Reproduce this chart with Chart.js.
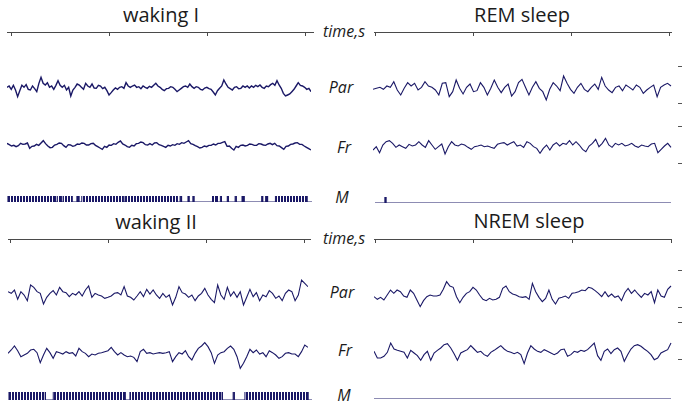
<!DOCTYPE html>
<html>
<head>
<meta charset="utf-8">
<script src="https://cdn.jsdelivr.net/npm/chart.js@4.4.1/dist/chart.umd.min.js"></script>
<style>
  html, body { margin: 0; padding: 0; background: #fff; }
  #stage { position: relative; width: 682px; height: 403px; overflow: hidden; }
  #stage canvas { position: absolute; }
  .title { position: absolute; transform: translateX(-50%); font: 20px "Open Sans", sans-serif; line-height: 1; color: #1b1b1b; white-space: nowrap; }
  .lab { position: absolute; transform: translateX(-50%); font: italic 16px "Open Sans", sans-serif; line-height: 1; color: #1b1b1b; white-space: nowrap; }
</style>
</head>
<body>
<div id="stage">
  <div class="title" style="left:161px;top:5px">waking I</div>
  <div class="title" style="left:522px;top:5px">REM sleep</div>
  <div class="title" style="left:156px;top:212px">waking II</div>
  <div class="title" style="left:529px;top:211px">NREM sleep</div>
  <div class="lab" style="left:344px;top:23px">time,s</div>
  <div class="lab" style="left:341px;top:79px">Par</div>
  <div class="lab" style="left:344px;top:139px">Fr</div>
  <div class="lab" style="left:342px;top:189px">M</div>
  <div class="lab" style="left:344px;top:230px">time,s</div>
  <div class="lab" style="left:342px;top:284px">Par</div>
  <div class="lab" style="left:345px;top:342px">Fr</div>
  <div class="lab" style="left:344px;top:387px">M</div>
</div>
<script>
// time axis ticks, s
const timeTicks = [0, 10, 20, 30];
// amplitude marks on the right-hand traces (a.u.)
const rangeTicks = [-54, 54];

// waking I
const wakeIPar = [2, 6, -4, 8, -6, -26, -8, 8, 2, 10, -4, -6, 6, -2, -11, 14, 32, 14, 9, 16, 2, 6, -4, 8, 22, 8, 2, 8, -6, 2,
  -24, -6, 2, 12, 9, 2, -4, 14, 6, 2, 12, 0, -1, 8, 6, -2, 2, -8, -21, -14, -6, 0, -4, 2, 4, -1, 16, 6, 2, 6,
  9, 2, 4, -2, 6, 2, -1, 5, 2, 8, 14, 6, 2, -4, -8, -2, -1, 4, 2, -4, -11, -6, -1, 4, 6, 2, 12, 4, -1, 4,
  2, -4, -6, 0, 2, -2, -4, -12, -21, -8, -1, 6, 24, 12, 2, -2, -6, 2, 4, -2, -1, 6, 2, 6, 0, 6, 2, 8, 4, 9,
  2, -1, 6, 4, 10, 14, 8, 22, 9, -1, -16, -24, -21, -18, -11, -4, 6, 16, 8, 6, 2, -4, -1, -11];
const wakeIFr = [5, 1, -3, -1, -5, -2, 5, 2, 3, 6, -10, -4, -3, 2, -1, 6, 13, 4, -3, -8, -7, 0, 2, 6, 5, -2, -7, 1, 0, -4,
  -2, 3, 2, 6, 5, 0, 0, 4, 5, -1, -5, -9, -13, -4, -7, 0, -1, 4, 2, 8, 12, 3, 0, -5, -7, -1, -3, 4, 5, 9,
  7, 1, 0, 4, 0, 6, 7, 1, -1, -4, -7, -1, -3, 1, -1, 4, 2, 7, 5, 9, 13, 4, 2, -2, -5, -9, -7, -3, -5, -1,
  -1, 3, 0, 5, 5, 8, 10, -4, -3, -10, -15, -4, -7, -1, 0, -3, -1, 3, 2, -1, -1, 4, 3, 0, -1, 3, 5, 1, 5, -2,
  -3, -8, -13, -4, -3, 2, 3, 6, 7, 2, 2, -3, -7, -11, -15];
// movement epochs [start, end], s
const wakeIMove = [[-0.4, 4.5], [4.7, 5.1], [5.3, 6.2], [6.7, 6.9], [7.2, 11.4], [11.6, 16.9], [17.2, 17.35], [18.0, 18.1],
  [18.5, 18.6], [20.5, 21.0], [21.3, 21.4], [22.0, 22.1], [22.8, 22.9], [23.5, 23.7], [25.5, 25.6], [25.9, 26.1], [26.9, 30.1]];

// REM sleep
const remPar = [-13, -10, -7, -13, -3, -7, 10, -15, -30, -10, 7, -3, 5, -15, -7, 10, -3, -7, -15, -30, 5, 7, -35, -20, 15, -10, -27, -7, 3, -20,
  -17, 7, -7, -30, -10, 15, -7, -23, -7, 3, -33, -20, 7, 17, -7, -30, -7, 10, -10, -20, -45, -13, 7, -3, -17, 27, 5, -13, -25, -7,
  5, -13, -20, -7, 3, -13, 23, -3, -15, -23, -7, -3, -17, 0, -7, -15, 0, -7, -25, -15, -7, 0, -35, -7, 0, 5, -3];
const remFr = [-15, -5, -23, 0, 10, 13, 5, -7, 0, -5, -10, 2, -3, 0, 10, 0, -7, 13, 0, -13, -5, 3, -27, -5, 10, 0, -3, 3, 0, -7,
  -13, -5, -3, 0, -5, -3, -7, -10, 2, 5, 7, 0, 5, 10, -3, 0, -7, 10, 5, -5, -10, -25, -10, 0, -15, 0, 7, -3, 5, 2,
  13, 0, 10, 0, -13, -20, -3, 5, 17, -5, 5, 20, 0, -7, 5, 0, 5, -3, 0, 5, -3, -7, 0, -3, -5, 3, 5, -23, -13, -3, 5, -7];
const remMove = [[1.0, 1.1]];

// waking II
const wakeIIPar = [4, -1, 9, -19, 4, -6, -23, 24, 17, 4, -1, -33, -13, -1, 7, -6, 17, 4, 1, -11, -1, -6, 4, -9, 9, 21, -13, -1, -6, -9,
  -16, -13, -9, -1, 1, -6, 19, -9, -13, -21, -9, 4, -11, 11, -3, 9, -6, -16, -1, -13, -6, -36, -13, 19, 1, -3, -13, -6, -23, -9,
  -1, 14, -6, -19, -29, 24, -6, -19, 17, -9, 4, -13, 4, -36, -13, 11, -11, 1, -23, -6, -11, 7, -1, -16, -9, -23, -1, 9, 4, -23,
  -6, 39, 29, 19];
const wakeIIFr = [-1, 9, 21, 7, -11, -6, -1, 9, 11, 1, -29, -6, 14, 1, -16, 4, 1, -3, 4, -1, 1, -9, 14, 4, -1, -11, -3, -6, -1, 1,
  4, 7, 17, 4, -6, 1, -6, -11, -9, -13, -26, 4, 11, -1, 1, -3, -1, 1, -1, 1, 4, -26, -11, 1, -3, 7, -11, -21, -1, 14,
  21, 31, 19, 1, -31, -6, 1, 4, 14, 21, 11, -11, -46, -31, -11, 11, 1, 9, -3, 1, -11, 7, 1, -6, -16, -11, -1, 1, -3, -3,
  -11, 4, 24, 17];
const wakeIIMove = [[-0.2, 3.6], [4.4, 11.7], [12.2, 21.6], [22.7, 22.8], [23.9, 30.3]];

// NREM sleep
const nremPar = [-23, -31, -25, -33, -18, -3, -13, -3, -8, -21, -25, -3, -13, -33, -53, -35, -23, -18, -21, -21, -18, -1, 22, 9, 5, -23, -41, -25, -13, -8,
  5, -3, -18, -31, -35, -28, -33, -31, -25, 2, 9, -8, -15, -18, -23, -25, -23, -31, 17, -8, -25, -38, -28, -3, -31, -45, -28, -25, -21, -28,
  -13, -11, -8, -3, -5, 5, 2, -5, -13, -23, -8, -23, -15, -25, -21, -35, -11, 2, -13, -3, -15, -25, -13, -18, -8, -41, -3, -21, -25, -1, 9];
const nremFr = [-31, -51, -51, -46, -34, -6, -24, -28, -31, -34, -51, -28, -36, -44, -58, -41, -31, -58, -36, -28, -21, -11, -8, -21, -38, -58, -36, -31, -26, -14,
  -24, -34, -31, -41, -46, -34, -28, -21, -14, -24, -31, -34, -38, -34, -41, -68, -36, -14, -24, -31, -34, -26, -31, -36, -41, -36, -26, -24, -46, -41,
  -31, -34, -28, -31, -26, -16, -6, -44, -58, -31, -24, -38, -26, -21, -31, -61, -41, -24, -14, -11, -16, -24, -31, -41, -56, -51, -36, -31, -26, -6];
const nremMove = [];

const NAVY = "#1a1866";
const AXIS = "#4a4a4a";
const stage = document.getElementById("stage");

// striped fill for the movement bars
const stripes = (() => {
  const c = document.createElement("canvas");
  c.width = 3; c.height = 1;
  const g = c.getContext("2d");
  g.fillStyle = "#fff"; g.fillRect(0, 0, 3, 1);
  g.fillStyle = NAVY; g.fillRect(0, 0, 2, 1);
  return g.createPattern(c, "repeat");
})();

const makeCanvas = (left, top, width, height) => {
  const c = document.createElement("canvas");
  c.width = width; c.height = height;
  c.style.left = left + "px"; c.style.top = top + "px";
  c.style.width = width + "px"; c.style.height = height + "px";
  stage.appendChild(c);
  return c;
};

const baseOpts = (padding) => ({
  responsive: false, animation: false, devicePixelRatio: 1, events: [],
  layout: { padding },
  plugins: { legend: { display: false }, tooltip: { enabled: false } }
});

// time axis with hanging ticks
const timeAxis = (x0, x1, y, t0px, pps) => {
  const canvas = makeCanvas(x0 - 2, y - 3, x1 - x0 + 4, 10);
  new Chart(canvas, {
    type: "line",
    data: { datasets: [] },
    options: {
      ...baseOpts({ left: 2, right: 2, top: 0, bottom: 0 }),
      scales: {
        x: {
          type: "linear", position: "bottom",
          min: (x0 - t0px) / pps, max: (x1 - t0px) / pps,
          border: { display: true, color: AXIS, width: 1 },
          grid: { drawOnChartArea: false, drawTicks: true, tickLength: 4, color: AXIS },
          ticks: { display: false },
          afterBuildTicks: s => { s.ticks = timeTicks.map(v => ({ value: v })); },
          afterFit: s => { s.height = 7; }
        },
        y: { display: false, min: 0, max: 1 }
      }
    }
  });
};

// one EEG trace
const trace = (values, x0, x1, cy, withTicks, lw) => {
  const h = 60;
  const right = withTicks ? 682 : x1 + 2;
  const canvas = makeCanvas(x0 - 2, Math.round(cy - h / 2), right - x0 + 2, h);
  const n = values.length;
  const areaRight = withTicks ? 678 : x1;
  new Chart(canvas, {
    type: "line",
    data: {
      datasets: [{
        data: values.map((v, i) => ({ x: i, y: v })),
        borderColor: NAVY, borderWidth: lw, pointRadius: 0, tension: 0, fill: false
      }]
    },
    options: {
      ...baseOpts({ left: 2, right: withTicks ? 0 : 2, top: 0, bottom: 0 }),
      scales: {
        x: { type: "linear", display: false, min: 0, max: (n - 1) * (areaRight - x0) / (x1 - x0) },
        y: {
          min: -90, max: 90, display: withTicks, position: "right",
          border: { display: false },
          grid: { drawOnChartArea: false, drawTicks: true, tickLength: 4, color: "#555" },
          ticks: { display: false },
          afterBuildTicks: s => { s.ticks = rangeTicks.map(v => ({ value: v })); },
          afterFit: s => { s.width = 4; }
        }
      }
    }
  });
};

// movement channel: baseline plus striped bars, no line along the bar tops
const movement = (epochs, x0, x1, top, base, t0px, pps) => {
  const canvas = makeCanvas(x0 - 2, top - 2, x1 - x0 + 4, base - top + 4);
  const tMin = (x0 - t0px) / pps, tMax = (x1 - t0px) / pps;
  const pts = [{ x: tMin, y: 0 }];
  epochs.forEach(([a, b]) => {
    pts.push({ x: a, y: 0 }, { x: a, y: 1 }, { x: b, y: 1 }, { x: b, y: 0 });
  });
  pts.push({ x: tMax, y: 0 });
  new Chart(canvas, {
    type: "line",
    data: {
      datasets: [{
        data: pts, borderColor: NAVY, borderWidth: 1, pointRadius: 0, tension: 0,
        fill: "origin", backgroundColor: stripes,
        segment: {
          borderColor: ctx => (ctx.p0.parsed.y === 1 && ctx.p1.parsed.y === 1 ? "rgba(0,0,0,0)" : undefined)
        }
      }]
    },
    options: {
      ...baseOpts(2),
      scales: {
        x: { type: "linear", display: false, min: tMin, max: tMax },
        y: { display: false, min: 0, max: 1 }
      }
    }
  });
};

// waking I
timeAxis(7, 313, 32, 11, 9.83);
trace(wakeIPar, 7, 315, 88, false, 1.4);
trace(wakeIFr, 7, 315, 145, false, 1.4);
movement(wakeIMove, 7, 312, 196, 202, 11, 9.83);

// REM sleep
timeAxis(374, 671, 32, 375, 9.83);
trace(remPar, 373, 671, 85, true, 1.1);
trace(remFr, 373, 671, 145, true, 1.1);
movement(remMove, 375, 671, 197, 203, 375, 9.83);

// waking II
timeAxis(8, 310, 239, 10, 9.83);
trace(wakeIIPar, 8, 312, 293, false, 1.1);
trace(wakeIIFr, 8, 312, 353, false, 1.1);
movement(wakeIIMove, 8, 312, 392, 400, 10, 9.83);

// NREM sleep
timeAxis(374, 671, 239, 375, 9.87);
trace(nremPar, 374, 671, 289, true, 1.1);
trace(nremFr, 374, 671, 341, true, 1.1);
movement(nremMove, 374, 671, 393, 399, 375, 9.87);
</script>
</body>
</html>
